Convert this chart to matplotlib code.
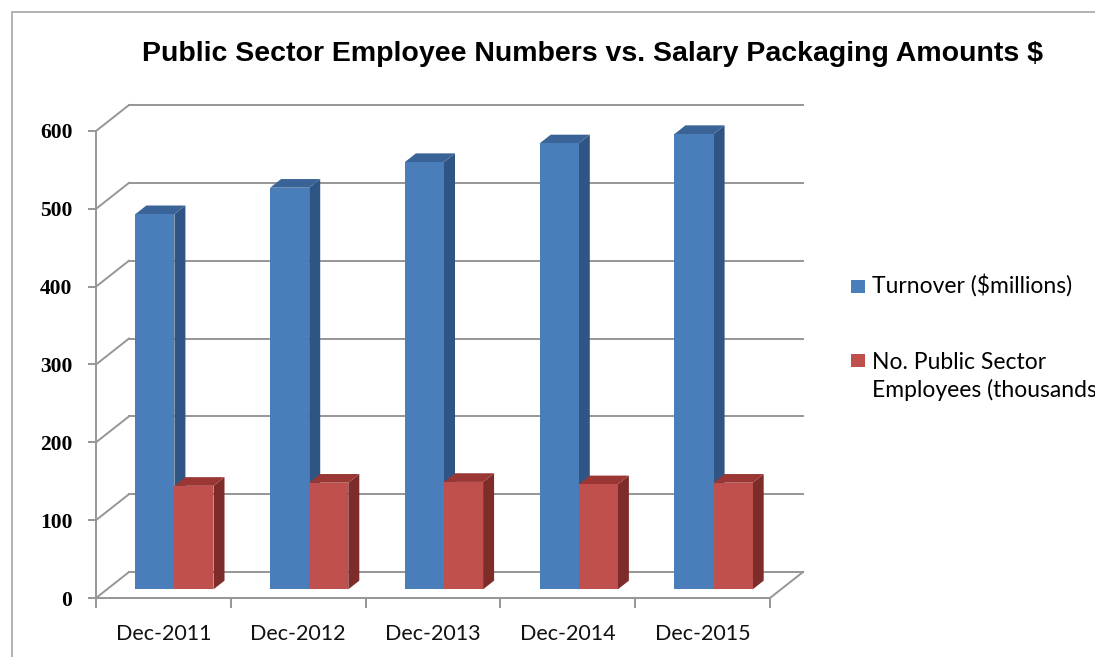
import matplotlib
matplotlib.use("Agg")
import matplotlib.pyplot as plt
from matplotlib.patches import Polygon, Rectangle

# data
categories = ["Dec-2011", "Dec-2012", "Dec-2013", "Dec-2014", "Dec-2015"]
turnover = [482, 516, 549, 573, 585]
employees = [133, 137, 138, 135, 137]
series_names = ["Turnover ($millions)", "No. Public Sector\nEmployees (thousands)"]
y_ticks = [0, 100, 200, 300, 400, 500, 600]

# colours: front, side, top
blue = ("#4A7EBB", "#2F5584", "#3A6497")
red = ("#C0504D", "#7E2C2A", "#9A3734")
grid_col = "#969696"

# fake 3d: depth offset in data units (full depth of the floor)
DX = 0.245
DY = 33.4
d0, d1 = 1 / 3, 2 / 3
w = 0.29

W, H = 1095, 657
fig = plt.figure(figsize=(W / 100, H / 100), dpi=100)

# axes in pixel terms: front axis x=96, floor front at y=598
left, bottom, right, top = 96, 598, 803, 105
ax = fig.add_axes([left / W, (H - bottom) / H, (right - left) / W, (bottom - top) / H])
ax.set_xlim(-0.5, len(categories) - 0.5 + DX)
ax.set_ylim(0, 600 + DY)
ax.patch.set_visible(False)


def p(x, y, d):
    return (x + d * DX, y + d * DY)


# back wall gridlines + side wall diagonals
n = len(categories)
for v in y_ticks:
    ax.plot([-0.5 + DX, n - 0.5 + DX], [v + DY, v + DY], color=grid_col, lw=1.4,
            clip_on=False, zorder=1)
    ax.plot([-0.5, -0.5 + DX], [v, v + DY], color=grid_col, lw=1.4, clip_on=False, zorder=1)
# floor right edge
ax.plot([n - 0.5, n - 0.5 + DX], [0, DY], color=grid_col, lw=1.4, clip_on=False, zorder=1)


def bar3d(x0, x1, v, cols, z):
    front, side, topc = cols
    ax.add_patch(Polygon([p(x0, 0, d0), p(x1, 0, d0), p(x1, v, d0), p(x0, v, d0)],
                         closed=True, fc=front, ec="none", zorder=z + 0.2))
    ax.add_patch(Polygon([p(x1, 0, d0), p(x1, 0, d1), p(x1, v, d1), p(x1, v, d0)],
                         closed=True, fc=side, ec="none", zorder=z))
    ax.add_patch(Polygon([p(x0, v, d0), p(x1, v, d0), p(x1, v, d1), p(x0, v, d1)],
                         closed=True, fc=topc, ec="none", zorder=z + 0.1))


for i in range(n):
    bar3d(i - w, i, turnover[i], blue, 2 + i)
    bar3d(i, i + w, employees[i], red, 2.5 + i)

# axes lines
for s in ["top", "right"]:
    ax.spines[s].set_visible(False)
ax.spines["left"].set_bounds(0, 600)
ax.spines["bottom"].set_bounds(-0.5, n - 0.5)
for s in ["left", "bottom"]:
    ax.spines[s].set_color(grid_col)
    ax.spines[s].set_linewidth(1.4)
    ax.spines[s].set_zorder(10)

ax.set_yticks(y_ticks)
ax.set_yticklabels([str(v) for v in y_ticks], fontfamily="Liberation Serif",
                   fontweight="bold", fontsize=15.5)
ax.tick_params(axis="y", length=6, width=1.4, color=grid_col, pad=11)

ax.set_xticks(range(n))
ax.set_xticklabels(categories, fontfamily="Lato", fontsize=15.5, color="#111111")
ax.set_xticks([i - 0.5 for i in range(n + 1)], minor=True)
ax.tick_params(axis="x", which="major", length=0, pad=19)
ax.tick_params(axis="x", which="minor", length=7, width=1.4, color=grid_col)

# title
fig.text(592 / W, 1 - 61 / H, "Public Sector Employee Numbers vs. Salary Packaging Amounts $",
         ha="center", va="baseline", fontsize=20.5, fontweight="bold",
         family="Liberation Sans")

# legend drawn by hand (Excel style, square next to first line)
fig.patches.append(Rectangle((851 / W, 1 - 293 / H), 14 / W, 13 / H, fc=blue[0], ec="none",
                             transform=fig.transFigure))
fig.text(872 / W, 1 - 293 / H, series_names[0], fontsize=16.5, family="Lato", va="baseline")
fig.patches.append(Rectangle((851 / W, 1 - 367 / H), 14 / W, 13 / H, fc=red[0], ec="none",
                             transform=fig.transFigure))
# baseline anchors the last line, first line sits 30 px above
fig.text(872 / W, 1 - 397 / H, series_names[1], fontsize=16.5, family="Lato", va="baseline",
         linespacing=1.32, ma="left")

# chart border
fig.patches.append(Rectangle((12 / W, -0.01), 1.02, 1 - 12 / H + 0.01, fill=False,
                             ec="#A6A6A6", lw=1.2, transform=fig.transFigure))

fig.savefig("out.png", dpi=100)
